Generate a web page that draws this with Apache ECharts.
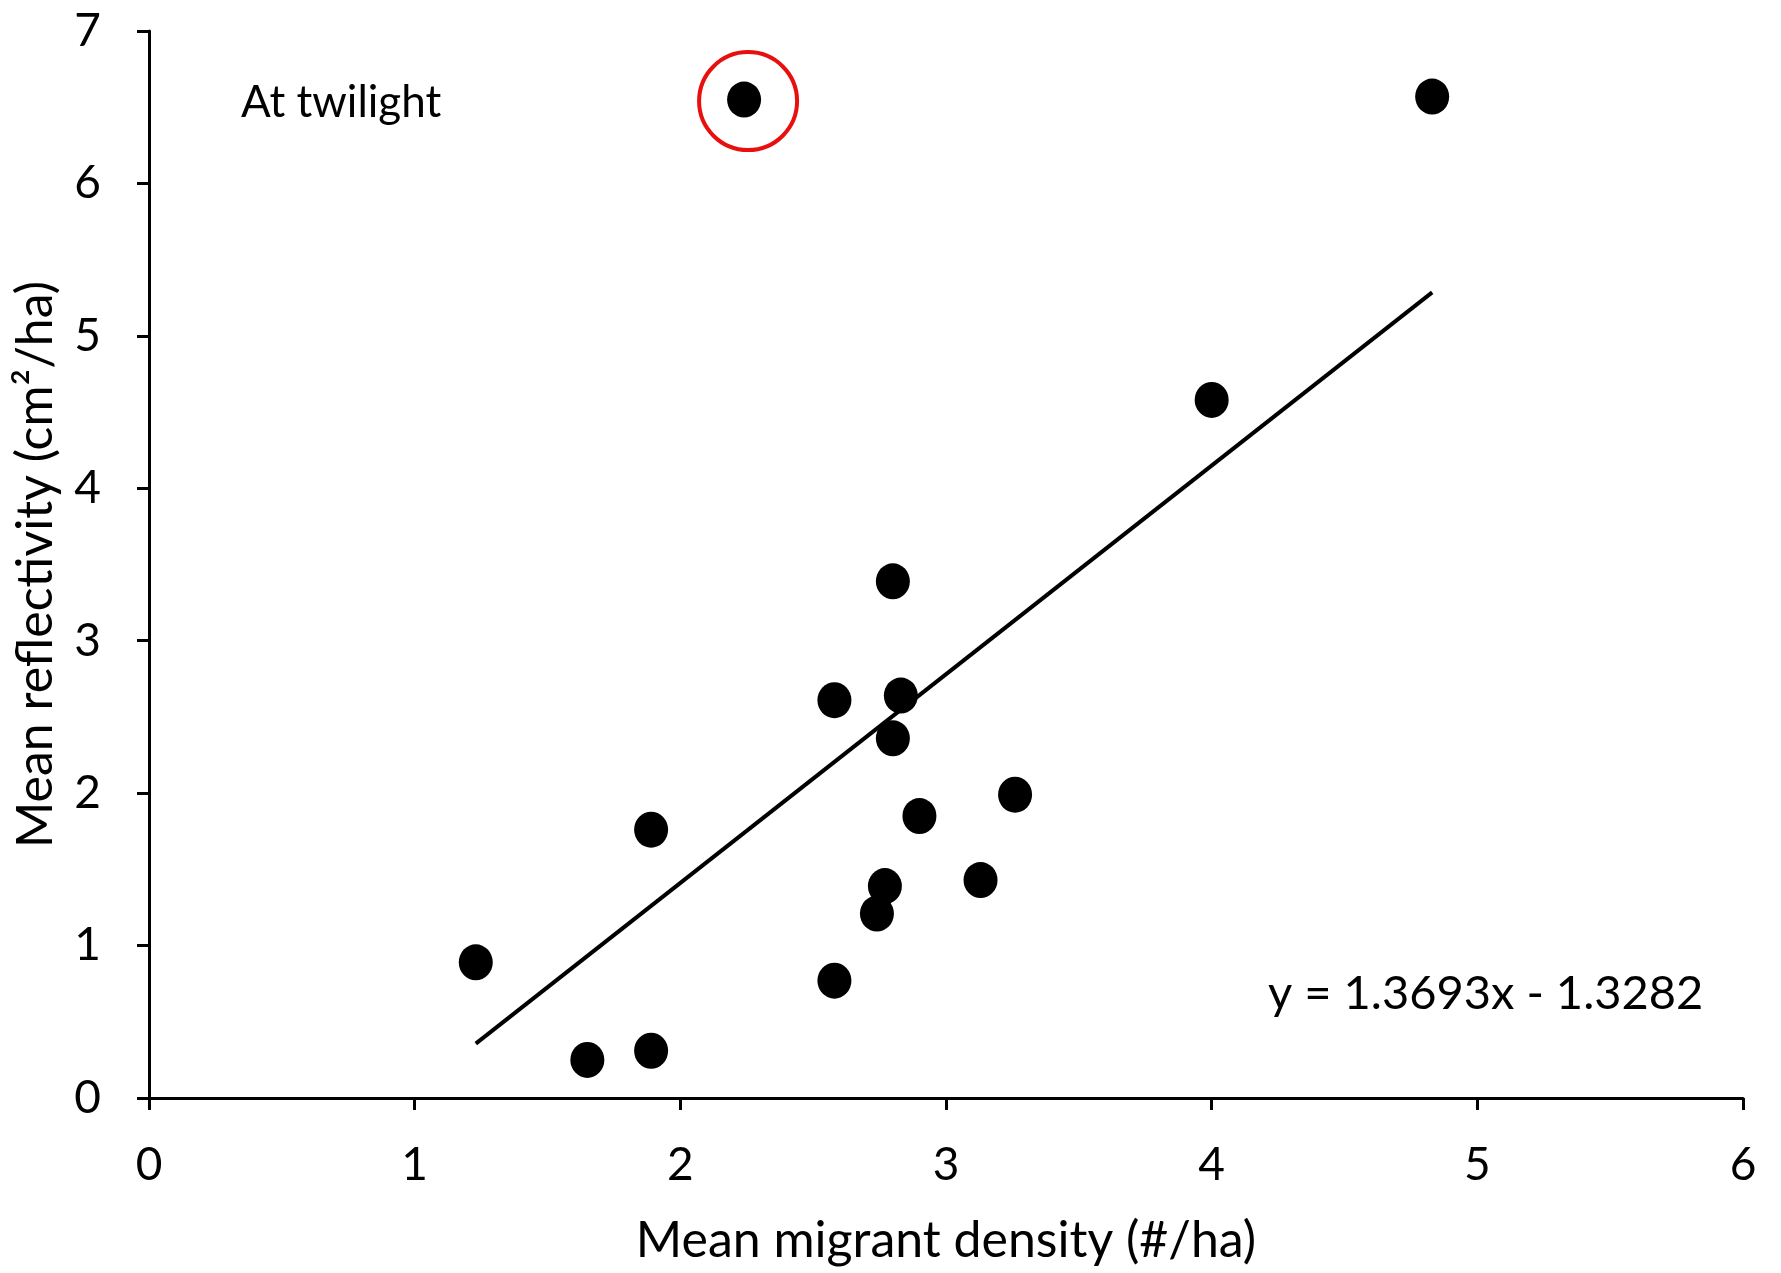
<!DOCTYPE html>
<html>
<head>
<meta charset="utf-8">
<script src="https://cdn.jsdelivr.net/npm/echarts@6/dist/echarts.min.js"></script>
<style>
  html, body { margin: 0; padding: 0; background: #fff; }
  #chart { width: 1781px; height: 1273px; }
</style>
</head>
<body>
<div id="chart"></div>
<script>
// mean migrant density (#/ha) vs mean reflectivity (cm2/ha), at twilight
var densityX = [2.24, 4.83, 4.00, 2.80, 2.58, 2.83, 2.80, 3.26, 2.90, 1.89, 2.77, 3.13, 2.74, 1.23, 2.58, 1.65, 1.89];
var reflectivityY = [6.55, 6.57, 4.58, 3.39, 2.61, 2.64, 2.36, 1.99, 1.85, 1.76, 1.39, 1.43, 1.21, 0.89, 0.77, 0.25, 0.31];

// the circled outlier
var circledX = [2.255];
var circledY = [6.54];

// trend line end points (y = 1.3693x - 1.3282)
var fitX = [1.23, 4.83];
var fitY = [0.357, 5.285];

var xTicks = [0, 1, 2, 3, 4, 5, 6];
var yTicks = [0, 1, 2, 3, 4, 5, 6, 7];

var fontName = 'Lato';

function pairs(xs, ys) {
    var out = [];
    for (var i = 0; i < xs.length; i++) {
        out.push([xs[i], ys[i]]);
    }
    return out;
}

var chart = echarts.init(document.getElementById('chart'));

var axisCommon = {
    type: 'value',
    interval: 1,
    splitLine: { show: false },
    axisLine: { show: true, onZero: false, lineStyle: { color: '#000', width: 3 } },
    axisTick: { show: true, inside: false, length: 12, lineStyle: { color: '#000', width: 3 } },
    nameLocation: 'middle',
    nameTextStyle: { color: '#000', fontSize: 50, fontFamily: fontName },
    axisLabel: { color: '#000', fontSize: 46, fontFamily: fontName }
};

chart.setOption({
    backgroundColor: '#fff',
    animation: false,
    grid: {
        left: 149,
        right: 38,
        top: 31,
        bottom: 175,
        containLabel: false,
        outerBoundsMode: 'none'
    },
    xAxis: Object.assign({}, axisCommon, {
        min: xTicks[0],
        max: xTicks[xTicks.length - 1],
        name: 'Mean migrant density (#/ha)',
        nameGap: 118,
        axisLabel: Object.assign({}, axisCommon.axisLabel, { margin: 44 })
    }),
    yAxis: Object.assign({}, axisCommon, {
        min: yTicks[0],
        max: yTicks[yTicks.length - 1],
        name: 'Mean reflectivity (cm\u00B2/ha)',
        nameGap: 88,
        axisLabel: Object.assign({}, axisCommon.axisLabel, { margin: 48 })
    }),
    series: [
        {
            type: 'line',
            data: pairs(fitX, fitY),
            symbol: 'none',
            lineStyle: { color: '#000', width: 4 },
            z: 2
        },
        {
            type: 'scatter',
            data: pairs(densityX, reflectivityY),
            symbol: 'circle',
            symbolSize: [34, 36],
            itemStyle: { color: '#000', opacity: 1 },
            z: 3
        },
        {
            type: 'scatter',
            data: pairs(circledX, circledY),
            symbol: 'circle',
            symbolSize: 98,
            itemStyle: { color: 'rgba(0,0,0,0)', borderColor: '#e8100f', borderWidth: 4, opacity: 1 },
            z: 4
        }
    ],
    graphic: [
        {
            type: 'text',
            left: 241,
            top: 81,
            style: { text: 'At twilight', fill: '#000', fontSize: 44, fontFamily: fontName }
        },
        {
            type: 'text',
            left: 1268,
            top: 970,
            style: { text: 'y = 1.3693x - 1.3282', fill: '#000', fontSize: 47, fontFamily: fontName }
        }
    ]
});
</script>
</body>
</html>
